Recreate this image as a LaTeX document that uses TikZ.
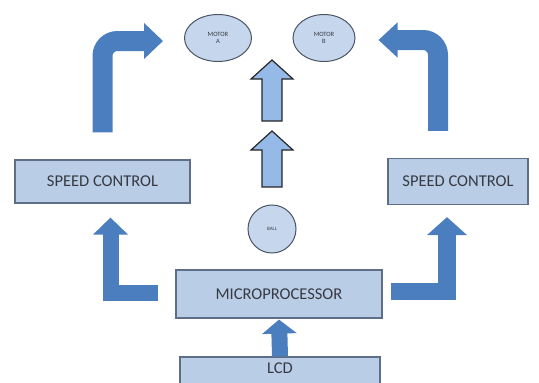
\documentclass[tikz,border=0pt]{standalone}
\usepackage{fontspec}
\setmainfont{Carlito}
\usetikzlibrary{arrows.meta, calc, shapes.geometric}
\definecolor{boxfill}{RGB}{185,205,230}
\definecolor{boxline}{RGB}{95,110,135}
\definecolor{flowblue}{RGB}{74,126,190}
\definecolor{hollowfill}{RGB}{150,186,232}
\definecolor{ovalfill}{RGB}{198,214,236}
\definecolor{ovalline}{RGB}{75,85,100}
\definecolor{txt}{RGB}{55,58,66}
\tikzset{
    block/.style={rectangle, draw=boxline, fill=boxfill, line width=1.2pt, inner sep=0pt, text=txt, font=\fontsize{16.5}{19}\selectfont},
    oval/.style={ellipse, draw=ovalline, fill=ovalfill, line width=1pt, inner sep=0pt, text=txt, align=center, font=\fontsize{6.5}{7}\selectfont},
    flow/.style={draw=flowblue, line width=16pt, line join=miter},
    hollow/.style={draw=black!85, fill=hollowfill, line width=1.2pt, line join=miter}
}

\begin{document}
\begin{tikzpicture}[x=1pt, y=1pt, yscale=-1]
  \useasboundingbox (0,0) rectangle (539,383);
  \clip (0,0) rectangle (539,383);

  \node (motorA) [oval, minimum width=67pt, minimum height=47pt] at (218,38) {MOTOR\\A};
  \node (motorB) [oval, minimum width=62pt, minimum height=47pt] at (324,38) {MOTOR\\B};
  \node (ball) [oval, minimum width=48pt, minimum height=48pt, font=\fontsize{5}{5}\selectfont] at (272,229) {BALL};

  \node (spdL) [block, minimum width=175pt, minimum height=43pt] at (102.5,181.5) {SPEED CONTROL};
  \node (spdR) [block, minimum width=140pt, minimum height=46pt] at (458,181.5) {SPEED CONTROL};
  \node (micro) [block, minimum width=206pt, minimum height=48pt] at (279,294) {MICROPROCESSOR};
  \node (lcd) [block, minimum width=200pt, minimum height=28pt, text depth=6pt] at (280,371) {LCD};

  % ball to motors
  \draw [hollow] (272,60) -- (293,79) -- (282,79) -- (282,121) -- (262,121) -- (262,79) -- (251,79) -- cycle;
  \draw [hollow] (272,131) -- (293,150) -- (282,150) -- (282,187) -- (262,187) -- (262,150) -- (251,150) -- cycle;

  % lcd and microprocessor
  \draw [flow, -{Triangle[width=34pt, length=14pt]}, shorten >=1pt] (lcd.north) -- (micro.south);
  \draw [flow, -{Triangle[width=34pt, length=17pt]}, shorten <=17pt, shorten >=14pt]
    ($(micro.west)+(0,-1.5)$) -| ($(spdL.south)+(8,0)$);
  \draw [flow, line width=17.5pt, -{Triangle[width=39pt, length=18pt]}, shorten <=8pt, shorten >=12pt]
    ($(micro.east)+(0,-2.5)$) -| ($(spdR.south)+(-11,0)$);

  % speed control to motors
  \draw [flow, line width=20pt, rounded corners=15pt, -{Triangle[width=35pt, length=19pt]}, shorten <=27pt, shorten >=21pt]
    (spdL.north) |- ($(motorA.west)+(0,3)$);
  \draw [flow, line width=20pt, rounded corners=15pt, -{Triangle[width=34pt, length=19pt]}, shorten <=27pt, shorten >=23pt]
    ($(spdR.north)+(-20,0)$) |- ($(motorB.east)+(0,2)$);
\end{tikzpicture}
\end{document}
